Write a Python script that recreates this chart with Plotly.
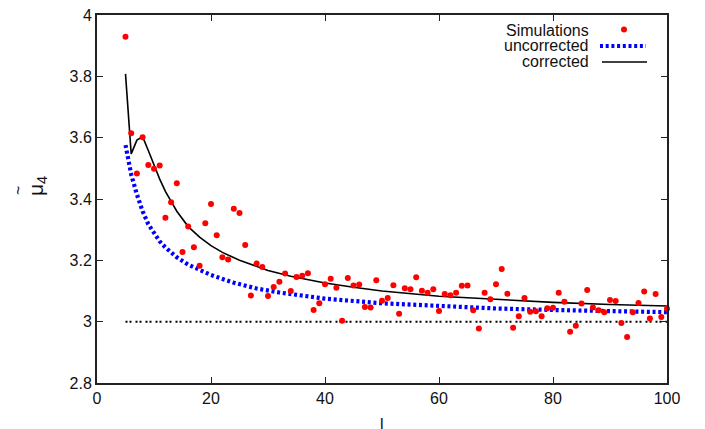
import plotly.graph_objects as go

# ---------------- data ----------------
sim_l = list(range(5, 101))
sim_mu4 = [
    3.929, 3.614, 3.483, 3.601, 3.511, 3.499, 3.509, 3.339, 3.389, 3.451,  # 5-14
    3.227, 3.310, 3.243, 3.182, 3.321, 3.384, 3.282, 3.210, 3.203, 3.368,  # 15-24
    3.354, 3.250, 3.085, 3.190, 3.178, 3.084, 3.113, 3.130, 3.157, 3.100,  # 25-34
    3.146, 3.150, 3.158, 3.038, 3.060, 3.122, 3.140, 3.111, 3.003, 3.142,  # 35-44
    3.118, 3.121, 3.048, 3.046, 3.135, 3.068, 3.077, 3.119, 3.026, 3.109,  # 45-54
    3.106, 3.145, 3.101, 3.094, 3.106, 3.035, 3.090, 3.086, 3.094, 3.117,  # 55-64
    3.118, 3.037, 2.978, 3.094, 3.073, 3.122, 3.172, 3.091, 2.980, 3.018,  # 65-74
    3.077, 3.032, 3.034, 3.018, 3.044, 3.045, 3.094, 3.065, 2.967, 2.987,  # 75-84
    3.059, 3.103, 3.046, 3.037, 3.031, 3.071, 3.067, 2.996, 2.950, 3.031,  # 85-94
    3.061, 3.098, 3.010, 3.090, 3.015, 3.042,                              # 95-100
]

uncorr_l = [5, 6, 7, 8, 9, 10, 11, 12, 14, 16, 18, 20, 24, 28, 32, 36, 40,
            50, 60, 70, 80, 90, 100]
uncorr_mu4 = [3.576, 3.480, 3.415, 3.360, 3.318, 3.287, 3.262, 3.242, 3.210,
              3.186, 3.168, 3.152, 3.127, 3.108, 3.095, 3.084, 3.075, 3.060,
              3.050, 3.043, 3.038, 3.034, 3.031]

corr_l = [5, 6, 7, 8, 9, 10, 11, 12, 13, 14, 16, 18, 20, 22, 25, 28, 30, 34,
          40, 45, 50, 60, 70, 80, 90, 100]
corr_mu4 = [3.808, 3.547, 3.592, 3.603, 3.558, 3.510, 3.465, 3.425, 3.390,
            3.360, 3.310, 3.276, 3.248, 3.226, 3.200, 3.180, 3.167, 3.148,
            3.126, 3.112, 3.100, 3.083, 3.072, 3.063, 3.056, 3.051]

ref_l = [5, 100]
ref_mu4 = [3, 3]

x_ticks = [0, 20, 40, 60, 80, 100]
y_ticks = [2.8, 3, 3.2, 3.4, 3.6, 3.8, 4]

FONT = "Liberation Sans, Arial, Helvetica, sans-serif"
TXT = "#111"
BLUE_DASH = "3px,2.7px"

fig = go.Figure()

fig.add_trace(go.Scatter(
    x=ref_l, y=ref_mu4, mode="lines", showlegend=False,
    line=dict(color="black", width=2, dash="2px,2px,2px,4px"),
))
fig.add_trace(go.Scatter(
    x=uncorr_l, y=uncorr_mu4, mode="lines", name="uncorrected", showlegend=False,
    line=dict(color="#0000ff", width=4.2, dash=BLUE_DASH),
))
fig.add_trace(go.Scatter(
    x=corr_l, y=corr_mu4, mode="lines", name="corrected", showlegend=False,
    line=dict(color="black", width=1.6),
))
fig.add_trace(go.Scatter(
    x=sim_l, y=sim_mu4, mode="markers", name="Simulations", showlegend=False,
    marker=dict(color="#ff0000", size=6, line=dict(width=0)),
    cliponaxis=False,
))

# The page body has an 8px margin, so the figure is drawn 8px in from the
# window's top-left corner. Target plot area in window pixels:
OFF = 8
FIG_W, FIG_H = 705 - OFF, 429 - OFF
L, R, T, B = 97, 667, 15, 383
W, H = R - L, B - T


def px(x):
    return (x - L) / W


def py(y):
    return (B - y) / H


def note(text, x, y, xanchor="center", yanchor="middle", size=16, angle=0):
    return dict(text=text, x=x, y=y, xref="paper", yref="paper",
                xanchor=xanchor, yanchor=yanchor, showarrow=False,
                textangle=angle, font=dict(size=size, family=FONT, color=TXT))


annotations = [
    note("Simulations", px(591), py(30), xanchor="right"),
    note("uncorrected", px(591), py(46), xanchor="right"),
    note("corrected", px(591), py(62), xanchor="right"),
    note("μ<sub>4</sub>", px(37), py(186), size=21, angle=-90),
    note("~", px(18), py(191), size=16, angle=-90),
    note("l", 0.5, py(414), yanchor="top"),
]

shapes = [
    dict(type="circle", xref="paper", yref="paper",
         x0=px(621), x1=px(627), y0=py(32.5), y1=py(26.5),
         fillcolor="#ff0000", line=dict(width=0)),
    dict(type="line", xref="paper", yref="paper",
         x0=px(600), x1=px(646), y0=py(46), y1=py(46),
         line=dict(color="#0000ff", width=4, dash=BLUE_DASH)),
    dict(type="line", xref="paper", yref="paper",
         x0=px(602), x1=px(647), y0=py(62), y1=py(62),
         line=dict(color="black", width=1.6)),
]

axis_common = dict(
    showline=True, linecolor="#222", linewidth=2, mirror="ticks",
    ticks="inside", ticklen=6, tickwidth=1.2, tickcolor="#222",
    showgrid=False, zeroline=False, ticklabeloverflow="allow",
    tickfont=dict(size=16, family=FONT, color=TXT),
)

fig.update_layout(
    width=FIG_W, height=FIG_H,
    margin=dict(l=L - OFF, r=FIG_W - (R - OFF), t=T - OFF, b=FIG_H - (B - OFF),
                autoexpand=False),
    paper_bgcolor="white", plot_bgcolor="white",
    showlegend=False,
    xaxis=dict(range=[0, 100], tickvals=x_ticks, ticktext=[str(v) for v in x_ticks],
               **axis_common),
    yaxis=dict(range=[2.8, 4], tickvals=y_ticks, ticktext=[f"{v:g}" for v in y_ticks],
               **axis_common),
    annotations=annotations,
    shapes=shapes,
)

fig.write_html("out.html")
